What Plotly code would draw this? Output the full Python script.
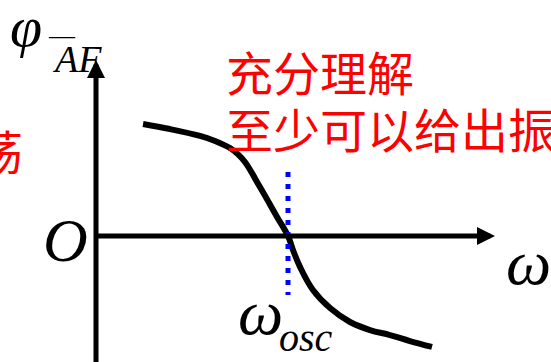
import plotly.graph_objects as go

# Data: phase response curve (omega in units of omega_osc, phase in arbitrary units)
omega = [0.245, 0.385, 0.542, 0.620, 0.698, 0.740, 0.776, 0.854, 0.943, 1.0, 1.026, 1.0625,
         1.130, 1.219, 1.323, 1.427, 1.531, 1.635, 1.75]
phi = [0.583, 0.557, 0.521, 0.495, 0.458, 0.425, 0.385, 0.255, 0.099, 0.0, -0.073, -0.161,
       -0.281, -0.375, -0.448, -0.490, -0.516, -0.547, -0.578]
omega_osc = 1.0
osc_marker_y = [0.333, -0.307]
x_axis_end = 2.078
y_axis_top = 0.917
y_axis_bottom = -0.75

W, H = 551, 362
X_RANGE = [-0.5, 2.3698]
Y_RANGE = [-0.65625, 1.229]


def px(x):
    return x / W


def py(y):
    return 1 - y / H


fig = go.Figure()

fig.add_trace(go.Scatter(
    x=omega, y=phi, mode="lines", line=dict(color="black", width=6, shape="spline", smoothing=1.1),
    hoverinfo="skip"))

fig.add_trace(go.Scatter(
    x=[omega_osc, omega_osc], y=osc_marker_y, mode="lines",
    line=dict(color="#0000FF", width=5, dash="5px,7px"), hoverinfo="skip"))

annotations = []
# axes with arrows
annotations.append(dict(x=x_axis_end, y=0, ax=0, ay=0, xref="x", yref="y", axref="x", ayref="y",
                        text="", showarrow=True, arrowhead=2, arrowsize=0.72, arrowwidth=5,
                        arrowcolor="black", standoff=0, startstandoff=0))
annotations.append(dict(x=0, y=y_axis_top, ax=0, ay=y_axis_bottom, xref="x", yref="y", axref="x", ayref="y",
                        text="", showarrow=True, arrowhead=2, arrowsize=0.72, arrowwidth=5,
                        arrowcolor="black", standoff=0, startstandoff=0))

serif = "Liberation Serif"
cjk = "Noto Sans CJK SC"


def label(text, x, y, size, family=serif, color="black", xanchor="center", yanchor="middle"):
    annotations.append(dict(text=text, x=px(x), y=py(y), xref="paper", yref="paper",
                            showarrow=False, xanchor=xanchor, yanchor=yanchor,
                            font=dict(family=family, size=size, color=color)))


label("<i>φ</i>", 26, 27, 58)
label("—", 62, 35, 26)
label("<i>AF</i>", 77, 59, 38)
label("<i>O</i>", 65, 240, 62)
label("<i>ω</i>", 528, 262, 64)
label("<i>ω</i>", 260, 312, 64)
label("<i>osc</i>", 306, 337, 40)

label("充分理解", 224, 70, 47, family=cjk, color="#FF0000", xanchor="left")
label("至少可以给出振", 224, 127, 47, family=cjk, color="#FF0000", xanchor="left")
label("荡", 25, 150, 47, family=cjk, color="#FF0000", xanchor="right")

fig.update_layout(
    width=W, height=H, margin=dict(l=0, r=0, t=0, b=0),
    paper_bgcolor="white", plot_bgcolor="white", showlegend=False,
    xaxis=dict(range=X_RANGE, visible=False, fixedrange=True),
    yaxis=dict(range=Y_RANGE, visible=False, fixedrange=True),
    annotations=annotations,
)

fig.write_html("out.html", config={"displayModeBar": False},
               post_script="document.body.style.margin='0px';")
